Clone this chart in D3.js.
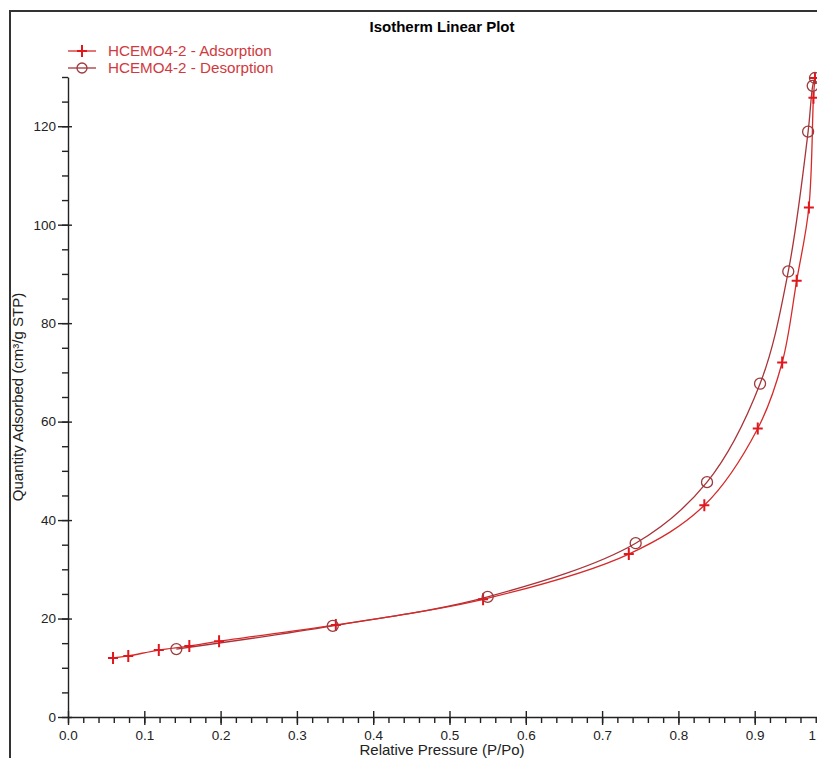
<!DOCTYPE html>
<head>
  <meta charset="utf-8">
  <script src="https://d3js.org/d3.v7.min.js"></script>
  <style>
body { margin: 0; background: #fff; }
svg { font-family: "Liberation Sans", Arial, sans-serif; }
.axis path, .axis line { stroke: #222; stroke-width: 1.4px; }
.axis text { font-size: 13.5px; fill: #222; }
  </style>
</head>

<body>
  <script>
    // values
    var adsP = [0.059, 0.079, 0.119, 0.159, 0.198, 0.351, 0.544, 0.735, 0.834, 0.904, 0.936, 0.955, 0.971, 0.977, 0.979];
    var adsQ = [12.0, 12.4, 13.6, 14.4, 15.4, 18.7, 23.9, 33.1, 43.0, 58.6, 72.0, 88.6, 103.5, 125.8, 129.8];
    var desP = [0.979, 0.976, 0.970, 0.944, 0.907, 0.8375, 0.744, 0.550, 0.347, 0.142];
    var desQ = [129.8, 128.2, 118.9, 90.5, 67.7, 47.7, 35.3, 24.4, 18.5, 13.8];
    var xTicks = [0, 0.1, 0.2, 0.3, 0.4, 0.5, 0.6, 0.7, 0.8, 0.9, 1.0];
    var yTicks = [0, 20, 40, 60, 80, 100, 120];
    var seriesNames = ["HCEMO4-2 - Adsorption", "HCEMO4-2 - Desorption"];

    var width = 817, height = 758;
    var svg = d3.select("body").append("svg")
      .attr("width", width)
      .attr("height", height);

    // outer frame (right/bottom edges are off the picture)
    svg.append("rect")
      .attr("x", 10).attr("y", 11)
      .attr("width", 880).attr("height", 800)
      .attr("fill", "none")
      .attr("stroke", "#333")
      .attr("stroke-width", 2);

    var x = d3.scaleLinear().domain([0, 1]).range([68, 831]);
    var y = d3.scaleLinear().domain([0, 130]).range([717, 77]);

    // x axis: minor ticks first, then majors with labels
    var xMinor = svg.append("g").attr("class", "axis")
      .attr("transform", "translate(0,717)")
      .call(d3.axisBottom(x).tickValues(d3.range(0, 1.001, 0.02)).tickSize(6).tickSizeOuter(0).tickFormat(""));
    xMinor.select(".domain").remove();

    var xAxis = svg.append("g").attr("class", "axis")
      .attr("transform", "translate(0,717)")
      .call(d3.axisBottom(x).tickValues(xTicks).tickSize(8).tickSizeOuter(0).tickPadding(5)
        .tickFormat(d3.format(".1f")));
    xAxis.selectAll(".tick line").attr("y1", -6);
    // last label sits pulled in toward the plot, as in the original
    xAxis.selectAll(".tick text").filter(function(d) { return d == 1; })
      .attr("text-anchor", "start").attr("dx", -23);

    var yMinor = svg.append("g").attr("class", "axis")
      .attr("transform", "translate(68,0)")
      .call(d3.axisLeft(y).tickValues(d3.range(0, 131, 5)).tickSize(6).tickSizeOuter(0).tickFormat(""));
    yMinor.select(".domain").remove();

    var yAxis = svg.append("g").attr("class", "axis")
      .attr("transform", "translate(68,0)")
      .call(d3.axisLeft(y).tickValues(yTicks).tickSize(10).tickSizeOuter(0).tickPadding(2));
    yAxis.selectAll(".tick line").attr("x1", 4);

    // titles
    svg.append("text")
      .attr("x", 442).attr("y", 32)
      .attr("text-anchor", "middle")
      .style("font-size", "15px").style("font-weight", "bold")
      .text("Isotherm Linear Plot");

    svg.append("text")
      .attr("x", 442).attr("y", 755)
      .attr("text-anchor", "middle")
      .style("font-size", "15px").style("fill", "#222")
      .text("Relative Pressure (P/Po)");

    svg.append("text")
      .attr("transform", "translate(23,397) rotate(-90)")
      .attr("text-anchor", "middle")
      .style("font-size", "15px").style("fill", "#222")
      .text("Quantity Adsorbed (cm³/g STP)");

    var ads = adsP.map(function(p, i) { return [p, adsQ[i]]; });
    var des = desP.map(function(p, i) { return [p, desQ[i]]; });

    var line = d3.line()
      .x(function(d) { return x(d[0]); })
      .y(function(d) { return y(d[1]); })
      .curve(d3.curveCatmullRom.alpha(0.5));

    var adsColor = "#e0181e", adsLine = "#d62a2a";
    var desColor = "#9c3a3c", desLine = "#a8343a";

    svg.append("path").datum(des)
      .attr("d", line)
      .attr("fill", "none").attr("stroke", desLine).attr("stroke-width", 1.3);
    svg.append("path").datum(ads)
      .attr("d", line)
      .attr("fill", "none").attr("stroke", adsLine).attr("stroke-width", 1.3);

    function plus(g, cx, cy) {
      g.append("path")
        .attr("d", "M" + (cx - 5) + "," + cy + "H" + (cx + 5) + "M" + cx + "," + (cy - 6) + "V" + (cy + 6))
        .attr("stroke", adsColor).attr("stroke-width", 2).attr("fill", "none");
    }

    var adsMarks = svg.append("g");
    ads.forEach(function(d) { plus(adsMarks, x(d[0]), y(d[1])); });

    svg.append("g").selectAll("circle")
      .data(des)
      .enter().append("circle")
      .attr("cx", function(d) { return x(d[0]); })
      .attr("cy", function(d) { return y(d[1]); })
      .attr("r", 5.5)
      .attr("fill", "none")
      .attr("stroke", desColor)
      .attr("stroke-width", 1.3);

    // legend
    var legend = svg.append("g");
    [0, 1].forEach(function(i) {
      var ly = 51 + i * 17;
      legend.append("line")
        .attr("x1", 68).attr("x2", 96).attr("y1", ly).attr("y2", ly)
        .attr("stroke", i == 0 ? adsLine : desLine).attr("stroke-width", 1.3);
      if (i == 0) plus(legend, 82, ly);
      else legend.append("circle").attr("cx", 82).attr("cy", ly).attr("r", 5)
        .attr("fill", "none").attr("stroke", desColor).attr("stroke-width", 1.3);
      legend.append("text")
        .attr("x", 108).attr("y", ly + 5)
        .style("font-size", "15.2px").style("fill", "#d03a3e")
        .text(seriesNames[i]);
    });
  </script>
</body>
